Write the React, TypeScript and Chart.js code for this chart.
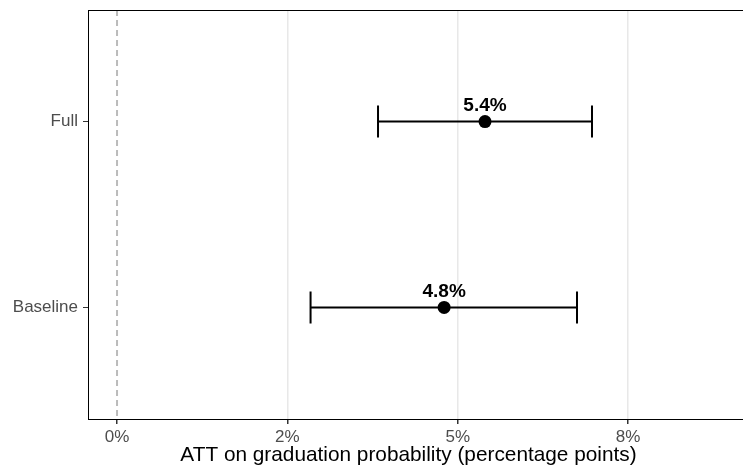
import React, { useEffect, useRef } from "react";
import { Chart, registerables } from "chart.js";

Chart.register(...registerables);

const categories = ["Baseline", "Full"];
const estimates = [0.048, 0.054];
const lowerCI = [0.0284, 0.0383];
const upperCI = [0.0675, 0.0697];
const pointLabels = ["4.8%", "5.4%"];
const xTickValues = [0, 0.025, 0.05, 0.075];
const xTickLabels = ["0%", "2%", "5%", "8%"];
const xTitle = "ATT on graduation probability (percentage points)";

const FONT = "'Liberation Sans', Arial, Helvetica, sans-serif";

export default function App() {
  const canvasRef = useRef<HTMLCanvasElement | null>(null);

  useEffect(() => {
    document.body.style.margin = "0";
    document.body.style.overflow = "hidden";
    const canvas = canvasRef.current;
    if (!canvas) return;

    const forestPlugin = {
      id: "forest",
      beforeDatasetsDraw(chart: any) {
        const { ctx, chartArea, scales } = chart;
        const xs = scales.x;
        const ys = scales.y;
        ctx.save();
        ctx.beginPath();
        ctx.strokeStyle = "#BBBBBB";
        ctx.lineWidth = 2;
        ctx.setLineDash([6, 4]);
        const x0 = xs.getPixelForValue(0);
        ctx.moveTo(x0, chartArea.top);
        ctx.lineTo(x0, chartArea.bottom);
        ctx.stroke();
        ctx.setLineDash([]);
        ctx.strokeStyle = "#000";
        ctx.lineWidth = 2;
        categories.forEach((_, i) => {
          const y = ys.getPixelForValue(i + 1);
          const xl = xs.getPixelForValue(lowerCI[i]);
          const xh = xs.getPixelForValue(upperCI[i]);
          ctx.beginPath();
          ctx.moveTo(xl, y);
          ctx.lineTo(xh, y);
          ctx.moveTo(xl, y - 16);
          ctx.lineTo(xl, y + 16);
          ctx.moveTo(xh, y - 16);
          ctx.lineTo(xh, y + 16);
          ctx.stroke();
        });
        ctx.restore();
      },
      afterDatasetsDraw(chart: any) {
        const { ctx, chartArea, scales } = chart;
        const xs = scales.x;
        const ys = scales.y;
        ctx.save();
        ctx.fillStyle = "#000";
        ctx.font = `bold 19px ${FONT}`;
        ctx.textAlign = "center";
        ctx.textBaseline = "middle";
        categories.forEach((_, i) => {
          const y = ys.getPixelForValue(i + 1);
          const x = xs.getPixelForValue(estimates[i]);
          ctx.fillText(pointLabels[i], x, y - 16);
        });
        ctx.strokeStyle = "#000";
        ctx.lineWidth = 1;
        ctx.strokeRect(
          chartArea.left + 0.5,
          chartArea.top + 0.5,
          chartArea.right - chartArea.left,
          chartArea.bottom - chartArea.top
        );
        // x-axis title
        ctx.font = `20.8px ${FONT}`;
        ctx.fillStyle = "#000";
        ctx.textAlign = "center";
        ctx.textBaseline = "middle";
        ctx.fillText(xTitle, 408.5, 455);
        ctx.restore();
      },
    };

    const chart = new Chart(canvas, {
      type: "scatter",
      data: {
        datasets: [
          {
            data: estimates.map((v, i) => ({ x: v, y: i + 1 })),
            backgroundColor: "#000",
            borderWidth: 0,
            pointRadius: 6.5,
            pointHoverRadius: 6.5,
          },
        ],
      },
      options: {
        animation: false,
        responsive: true,
        maintainAspectRatio: false,
        layout: { padding: { top: 10, left: 0, right: 0, bottom: 0 } },
        plugins: {
          legend: { display: false },
          tooltip: { enabled: false },
        },
        scales: {
          x: {
            type: "linear",
            min: -0.00426,
            max: 0.0934,
            afterBuildTicks: (scale: any) => {
              scale.ticks = xTickValues.map((v) => ({ value: v }));
            },
            afterFit: (scale: any) => {
              scale.height = 49;
              scale.paddingLeft = 0;
              scale.paddingRight = 0;
            },
            ticks: {
              autoSkip: false,
              maxRotation: 0,
              padding: 3,
              color: "#4D4D4D",
              font: { family: FONT, size: 17 },
              callback: (_v: any, idx: number) => xTickLabels[idx],
            },
            grid: {
              drawOnChartArea: true,
              drawTicks: true,
              tickLength: 5,
              tickColor: "#333333",
              lineWidth: 1.5,
              color: (c: any) =>
                c.tick && c.tick.value === 0 ? "rgba(0,0,0,0)" : "#E8E8E8",
            },
            border: { display: true, color: "#000", width: 1 },
            title: { display: false },
          },
          y: {
            type: "linear",
            min: 0.4,
            max: 2.6,
            afterBuildTicks: (scale: any) => {
              scale.ticks = categories.map((_, i) => ({ value: i + 1 }));
            },
            afterFit: (scale: any) => {
              scale.width = 88;
              scale.paddingTop = 0;
              scale.paddingBottom = 0;
            },
            ticks: {
              autoSkip: false,
              padding: 5,
              color: "#4D4D4D",
              font: { family: FONT, size: 17 },
              callback: (v: any) => categories[Math.round(v) - 1],
            },
            grid: {
              drawOnChartArea: false,
              drawTicks: true,
              tickLength: 5,
              tickColor: "#333333",
            },
            border: { display: true, color: "#000", width: 1 },
          },
        },
      },
      plugins: [forestPlugin],
    });

    return () => {
      chart.destroy();
    };
  }, []);

  return (
    <div
      style={{
        position: "fixed",
        left: 0,
        top: 0,
        width: 760,
        height: 468,
        background: "#fff",
      }}
    >
      <canvas ref={canvasRef} />
    </div>
  );
}
